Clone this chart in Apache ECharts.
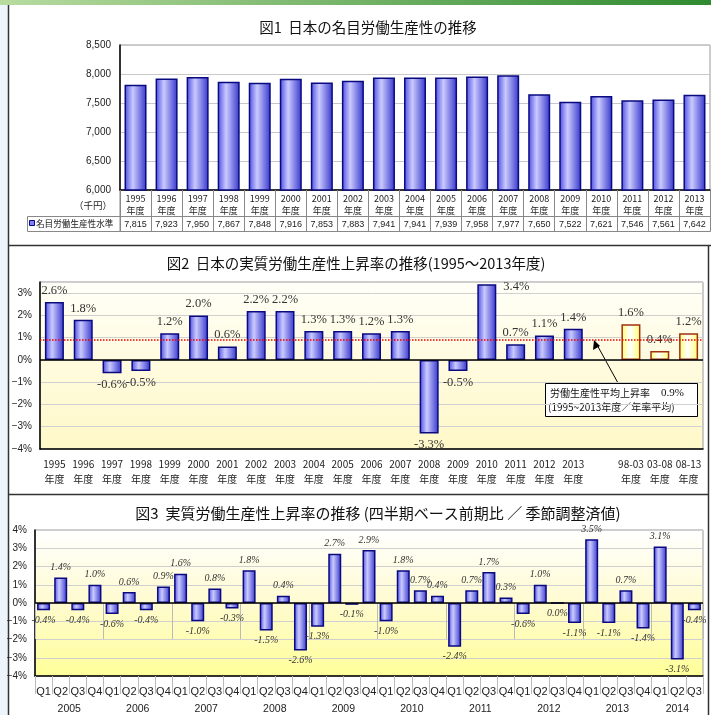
<!DOCTYPE html>
<html><head><meta charset="utf-8">
<script src="https://cdn.jsdelivr.net/npm/echarts@6/dist/echarts.min.js"></script>
<style>html,body{margin:0;padding:0;background:#fff}#c{width:711px;height:715px}</style>
</head><body><div id="c"></div>
<script>
// ---------- DATA ----------
const c1Years = ['1995','1996','1997','1998','1999','2000','2001','2002','2003','2004','2005','2006','2007','2008','2009','2010','2011','2012','2013'];
const c1Values = [7815,7923,7950,7867,7848,7916,7853,7883,7941,7941,7939,7958,7977,7650,7522,7621,7546,7561,7642];
const c1Ticks = {min:6000, max:8500, interval:500};

const c2Years = ['1995','1996','1997','1998','1999','2000','2001','2002','2003','2004','2005','2006','2007','2008','2009','2010','2011','2012','2013'];
const c2Values = [2.6,1.8,-0.6,-0.5,1.2,2.0,0.6,2.2,2.2,1.3,1.3,1.2,1.3,-3.3,-0.5,3.4,0.7,1.1,1.4];
const c2Periods = ['98-03','03-08','08-13'];
const c2PeriodValues = [1.6,0.4,1.2];
const c2Average = 0.9;
const c2Ticks = {min:-4, max:3.5, interval:1};

const c3Years = ['2005','2006','2007','2008','2009','2010','2011','2012','2013','2014'];
const c3QuarterNames = ['Q1','Q2','Q3','Q4'];
const c3QuarterCount = [4,4,4,4,4,4,4,4,4,3];
const c3Values = [
  -0.4,1.4,-0.4,1.0,
  -0.6,0.6,-0.4,0.9,
  1.6,-1.0,0.8,-0.3,
  1.8,-1.5,0.4,-2.6,
  -1.3,2.7,-0.1,2.9,
  -1.0,1.8,0.7,0.4,
  -2.4,0.7,1.7,0.3,
  -0.6,1.0,0.0,-1.1,
  3.5,-1.1,0.7,-1.4,
  3.1,-3.1,-0.4
];
const c3Ticks = {min:-4, max:4, interval:1};

// ---------- BUILD ----------
const c3Cats = [];
const c3YearBounds = [0];
const c3YearCenters = [];
let acc = 0;
c3Years.forEach((y,i)=>{
  for(let q=0;q<c3QuarterCount[i];q++) c3Cats.push(c3QuarterNames[q]);
  c3YearCenters.push(acc + c3QuarterCount[i]/2);
  acc += c3QuarterCount[i];
  c3YearBounds.push(acc);
});

const c2Cats = c2Years.concat([''], c2Periods);

const sans = '"Liberation Sans", Arial, sans-serif';
const jp = '"Noto Sans CJK JP", "Liberation Sans", sans-serif';
const serif = '"Liberation Serif", "Times New Roman", serif';

const blueFill = new echarts.graphic.LinearGradient(0,0,1,0,[
  {offset:0,color:'#4b4be3'},{offset:0.38,color:'#cacaff'},{offset:1,color:'#3535cc'}]);
const yellowFill = new echarts.graphic.LinearGradient(0,0,1,0,[
  {offset:0,color:'#ffff70'},{offset:0.45,color:'#ffffff'},{offset:1,color:'#ffff70'}]);
const blueStyle = {color:blueFill, borderColor:'#0a0a80', borderWidth:1.5};
const yellowStyle = {color:yellowFill, borderColor:'#a03010', borderWidth:1.5};

const fmtComma = v => String(v).replace(/\B(?=(\d{3})+(?!\d))/g, ',');
const fmtPctAxis = v => Number.isInteger(v) ? (v<0 ? '\u2212'+(-v) : v) + '%' : '';

// label placement: below negative bars, above positive; a bar reaching the top of the plot gets its label beside it
const c2LabelPos = v => v < 0 ? 'bottom' : (v > c2Ticks.max - 0.2 ? [26, -4] : 'top');
const c2Data = c2Values.map(v=>({value:v, itemStyle:blueStyle, label:{position: c2LabelPos(v)}}))
  .concat(['-'])
  .concat(c2PeriodValues.map(v=>({value:v, itemStyle:yellowStyle, label:{position: c2LabelPos(v)}})));
const c3Data = c3Values.map(v=>({value:v, label:{position: v<=0?'bottom':'top'}}));

const chart = echarts.init(document.getElementById('c'), null, {renderer:'canvas'});

const option = {
  animation:false,
  backgroundColor:'#ffffff',
  grid:[
    {left:120, top:45, width:590, height:145, show:true, borderColor:'#999', borderWidth:1, backgroundColor:'#ffffff'},
    {left:40, top:282, width:663, height:167, show:true, borderColor:'#999', borderWidth:1,
      backgroundColor:new echarts.graphic.LinearGradient(0,0,0,1,[{offset:0,color:'#fffff8'},{offset:0.45,color:'#fffbe0'},{offset:1,color:'#fff8c8'}])},
    {left:35, top:530, width:668, height:149, show:true, borderColor:'#999', borderWidth:1,
      backgroundColor:new echarts.graphic.LinearGradient(0,0,0,1,[{offset:0,color:'#ffffff'},{offset:0.5,color:'#fffbd0'},{offset:1,color:'#ffff98'}])}
  ],
  xAxis:[
    {gridIndex:0, type:'category', data:c1Years,
      axisLine:{lineStyle:{color:'#000',width:1.5}},
      axisTick:{show:true, length:41, lineStyle:{color:'#888'}},
      axisLabel:{margin:2, fontSize:9, fontFamily:jp, color:'#222', lineHeight:12.5, formatter:v=>v+'\n年度'}},
    {gridIndex:0, type:'category', data:c1Years, position:'bottom', offset:26,
      axisLine:{show:false}, axisTick:{show:false},
      axisLabel:{margin:4, fontSize:9, fontFamily:sans, color:'#222',
        formatter:(v,i)=>fmtComma(c1Values[i])}},
    {gridIndex:1, type:'category', data:c2Cats,
      axisLine:{onZero:false, lineStyle:{color:'#000',width:1.5}},
      axisTick:{show:false},
      axisLabel:{margin:8, fontSize:10, fontFamily:jp, color:'#222', lineHeight:15, interval:0,
        formatter:v=> v ? v+'\n年度' : ''}},
    {gridIndex:2, type:'category', data:c3Cats,
      axisLine:{onZero:false, lineStyle:{color:'#000',width:1.5}},
      axisTick:{show:true, length:18, lineStyle:{color:'#bbb'}},
      axisLabel:{margin:10, fontSize:11, fontFamily:sans, color:'#222', interval:0}},
    {gridIndex:2, type:'value', min:0, max:c3Cats.length, position:'bottom',
      axisLine:{show:false}, splitLine:{show:false},
      axisTick:{show:true, length:36, customValues:c3YearBounds, lineStyle:{color:'#bbb'}},
      axisLabel:{margin:28, fontSize:10.5, fontFamily:sans, color:'#222', customValues:c3YearCenters,
        formatter:v=>{ const i=c3YearCenters.indexOf(v); return i>=0?c3Years[i]:''; }}}
  ],
  yAxis:[
    {gridIndex:0, type:'value', min:c1Ticks.min, max:c1Ticks.max, interval:c1Ticks.interval,
      axisLine:{show:true, lineStyle:{color:'#000',width:1.5}}, axisTick:{show:false},
      splitLine:{lineStyle:{color:'#c8c8c8'}},
      axisLabel:{margin:9, fontSize:10, fontFamily:sans, color:'#222', formatter:fmtComma}},
    {gridIndex:1, type:'value', min:c2Ticks.min, max:c2Ticks.max, interval:c2Ticks.interval,
      axisLine:{show:true, onZero:false, lineStyle:{color:'#000',width:1.5}}, axisTick:{show:false},
      splitLine:{lineStyle:{color:'#d0d0d0'}},
      axisLabel:{margin:8, fontSize:10, fontFamily:sans, color:'#222', formatter:fmtPctAxis}},
    {gridIndex:2, type:'value', min:c3Ticks.min, max:c3Ticks.max, interval:c3Ticks.interval,
      axisLine:{show:true, onZero:false, lineStyle:{color:'#000',width:1.5}}, axisTick:{show:false},
      splitLine:{lineStyle:{color:'#d0d0d0'}},
      axisLabel:{margin:8, fontSize:10, fontFamily:sans, color:'#222', formatter:fmtPctAxis}}
  ],
  series:[
    {type:'bar', xAxisIndex:0, yAxisIndex:0, data:c1Values, barWidth:22, itemStyle:blueStyle, silent:true},
    {type:'bar', xAxisIndex:2, yAxisIndex:1, data:c2Data, barWidth:19, silent:true,
      label:{show:true, distance:5, fontFamily:serif, fontSize:12.5, color:'#333',
        formatter:p=>Number(p.value).toFixed(1)+'%'},
      markLine:{silent:true, symbol:['none','none'], label:{show:false},
        data:[
          {yAxis:0, lineStyle:{color:'#000', width:1.5, type:'solid'}},
          {yAxis:c2Average, lineStyle:{color:'#ee0000', width:1.5, type:'dotted'}}
        ]}},
    {type:'bar', xAxisIndex:3, yAxisIndex:2, data:c3Data, barWidth:13, itemStyle:blueStyle, silent:true,
      label:{show:true, distance:5, fontFamily:serif, fontStyle:'italic', fontSize:10, color:'#333',
        formatter:p=>Number(p.value).toFixed(1)+'%'},
      markLine:{silent:true, symbol:['none','none'], label:{show:false},
        data:[{yAxis:0, lineStyle:{color:'#000', width:1.5, type:'solid'}}]}}
  ],
  graphic:[
    // page decoration
    {type:'rect', shape:{x:0,y:0,width:8,height:715}, style:{fill:'#eef4fb'}, z:0, silent:true},
    {type:'rect', shape:{x:0,y:0,width:711,height:5},
      style:{fill:new echarts.graphic.LinearGradient(0,0,1,0,[{offset:0,color:'#b8dba0'},{offset:1,color:'#2f8a2f'}])}, silent:true},
    {type:'line', shape:{x1:8.5,y1:5,x2:8.5,y2:715}, style:{stroke:'#333',lineWidth:1.5}, silent:true},
    {type:'line', shape:{x1:8,y1:245.5,x2:711,y2:245.5}, style:{stroke:'#333',lineWidth:1.5}, silent:true},
    {type:'line', shape:{x1:8,y1:494.5,x2:708,y2:494.5}, style:{stroke:'#333',lineWidth:1.5}, silent:true},
    {type:'line', shape:{x1:708.5,y1:245,x2:708.5,y2:715}, style:{stroke:'#333',lineWidth:1.5}, silent:true},
    // titles
    {type:'text', style:{x:368,y:27,text:'図1  日本の名目労働生産性の推移',align:'center',verticalAlign:'middle',font:'14.5px '+jp,fill:'#111'}, silent:true},
    {type:'text', style:{x:356,y:263,text:'図2  日本の実質労働生産性上昇率の推移(1995～2013年度)',align:'center',verticalAlign:'middle',font:'14.5px '+jp,fill:'#111'}, silent:true},
    {type:'text', style:{x:378,y:513,text:'図3  実質労働生産性上昇率の推移 (四半期ベース前期比 ／ 季節調整済値)',align:'center',verticalAlign:'middle',font:'15px '+jp,fill:'#111'}, silent:true},
    // chart1 table
    {type:'rect', shape:{x:27.5,y:216.5,width:683,height:15}, style:{fill:'none',stroke:'#888',lineWidth:1}, silent:true},
    {type:'line', shape:{x1:120,y1:191,x2:120,y2:231}, style:{stroke:'#888',lineWidth:1}, silent:true},
    {type:'rect', shape:{x:29.5,y:220.5,width:5,height:5}, style:{fill:'#8080ff',stroke:'#0a0a80',lineWidth:1}, silent:true},
    {type:'text', style:{x:36,y:224,text:'名目労働生産性水準',align:'left',verticalAlign:'middle',font:'8.6px '+jp,fill:'#222'}, silent:true},
    {type:'text', style:{x:112,y:205,text:'（千円）',align:'right',verticalAlign:'middle',font:'9.5px '+jp,fill:'#222'}, silent:true},
    // chart2 annotation
    {type:'line', shape:{x1:618,y1:383,x2:596,y2:343}, style:{stroke:'#000',lineWidth:1}, silent:true},
    {type:'polygon', shape:{points:[[594,340],[593,350],[600,346]]}, style:{fill:'#000'}, silent:true},
    {type:'rect', shape:{x:545.5,y:383.5,width:152,height:33}, style:{fill:'#fff',stroke:'#000',lineWidth:1}, silent:true},
    {type:'text', style:{x:550,y:393,text:'労働生産性平均上昇率',align:'left',verticalAlign:'middle',font:'10px '+jp,fill:'#111'}, silent:true},
    {type:'text', style:{x:661,y:393,text:c2Average.toFixed(1)+'%',align:'left',verticalAlign:'middle',font:'11px '+serif,fill:'#111'}, silent:true},
    {type:'text', style:{x:548,y:407,text:'(1995~2013年度／年率平均)',align:'left',verticalAlign:'middle',font:'10px '+jp,fill:'#111'}, silent:true}
  ]
};
chart.setOption(option);
</script></body></html>
